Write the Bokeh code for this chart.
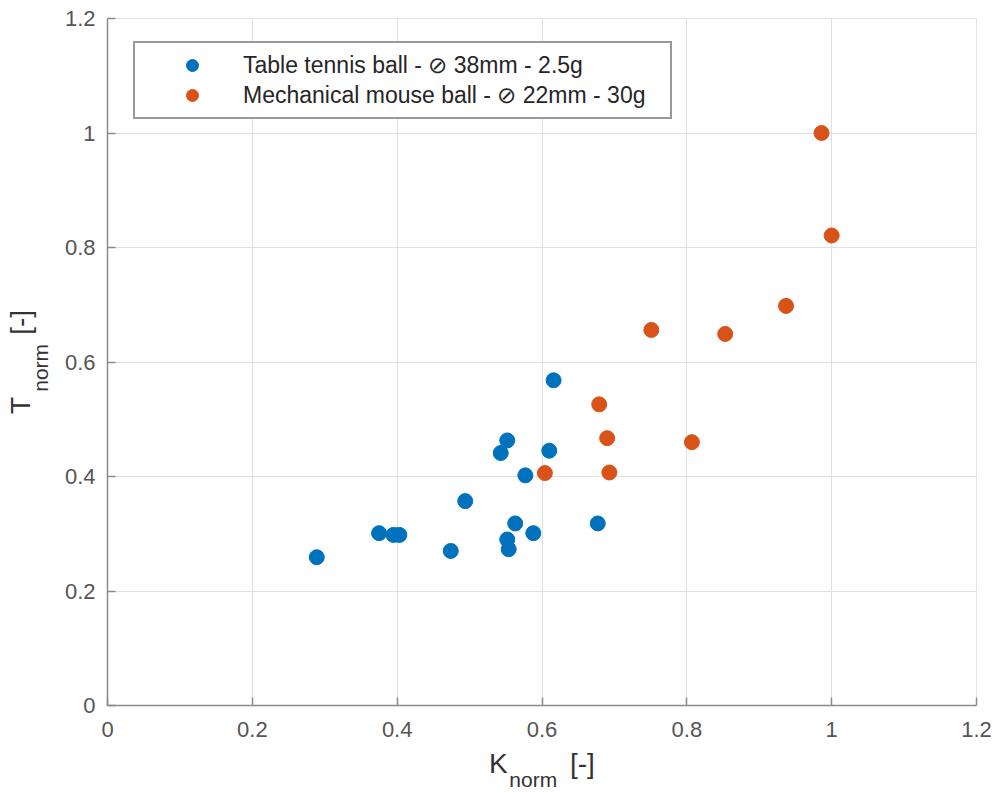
from bokeh.plotting import figure
from bokeh.models import Range1d, FixedTicker, LinearAxis
from bokeh.embed import file_html
from bokeh.resources import INLINE

# ---- data ----
tt_k = [0.289, 0.375, 0.395, 0.403, 0.474, 0.494, 0.543, 0.552, 0.552, 0.554,
        0.563, 0.577, 0.588, 0.610, 0.616, 0.677]
tt_t = [0.259, 0.301, 0.298, 0.298, 0.270, 0.357, 0.441, 0.463, 0.290, 0.273,
        0.318, 0.402, 0.301, 0.445, 0.568, 0.318]

mm_k = [0.604, 0.679, 0.690, 0.693, 0.751, 0.807, 0.853, 0.937, 0.986, 1.000]
mm_t = [0.406, 0.526, 0.467, 0.407, 0.656, 0.460, 0.649, 0.698, 1.000, 0.821]

series_names = ["Table tennis ball - \u2298 38mm - 2.5g",
                "Mechanical mouse ball - \u2298 22mm - 30g"]
ticks = [0, 0.2, 0.4, 0.6, 0.8, 1, 1.2]
tick_labels = ["0", "0.2", "0.4", "0.6", "0.8", "1", "1.2"]

NB = "\u00a0"
x_main, x_sub = "K" + NB * 8 + "[-]", "norm" + NB * 3
y_main, y_sub = "T" + NB * 8 + "[-]", "norm" + NB * 2

FONT = "Liberation Sans"
BLUE = "#0072BD"
ORANGE = "#D95319"
LAB = "#333333"

p = figure(width=1000, height=793, output_backend="svg", toolbar_location=None,
           x_range=Range1d(0, 1.2), y_range=Range1d(0, 1.2),
           min_border_left=107, min_border_right=24, min_border_top=18,
           min_border_bottom=88)
p.background_fill_color = "white"
p.border_fill_color = "white"
p.outline_line_color = "#e3e3e3"
p.outline_line_width = 1

for ax in (p.xaxis[0], p.yaxis[0]):
    ax.ticker = FixedTicker(ticks=ticks)
    ax.major_label_overrides = dict(zip(ticks, tick_labels))
    ax.axis_line_color = "#8a8a8a"
    ax.axis_line_width = 1.5
    ax.major_tick_line_color = "#8a8a8a"
    ax.major_tick_line_width = 1.5
    ax.major_tick_in = 8
    ax.major_tick_out = 0
    ax.minor_tick_line_color = None
    ax.minor_tick_out = 0
    ax.major_label_text_font = FONT
    ax.major_label_text_font_size = "22px"
    ax.major_label_text_color = "#555555"
    ax.axis_label_text_font = FONT
    ax.axis_label_text_font_style = "normal"
    ax.axis_label_text_color = LAB
p.xaxis[0].major_label_standoff = 16
p.yaxis[0].major_label_standoff = 12

# x label: main part on the main axis, subscript on an extra bare axis below
p.xaxis[0].axis_label = x_main
p.xaxis[0].axis_label_text_font_size = "28px"
p.xaxis[0].axis_label_standoff = 8


def bare_axis(label, size, standoff):
    a = LinearAxis(ticker=FixedTicker(ticks=[]), axis_label=label,
                   axis_line_color=None, major_tick_line_color=None,
                   minor_tick_line_color=None, major_tick_in=0, major_tick_out=0,
                   minor_tick_in=0, minor_tick_out=0,
                   axis_label_text_font=FONT, axis_label_text_font_size=size,
                   axis_label_text_font_style="normal", axis_label_text_color=LAB,
                   axis_label_standoff=standoff)
    return a

p.add_layout(bare_axis(x_sub, "21px", -14), "below")
# y label: subscript axis first (nearer the frame), then main part outside it
p.add_layout(bare_axis(y_sub, "21px", 10), "left")
p.add_layout(bare_axis(y_main, "28px", -10), "left")

p.xgrid.ticker = FixedTicker(ticks=ticks)
p.ygrid.ticker = FixedTicker(ticks=ticks)
p.grid.grid_line_color = "#e0e0e0"
p.grid.grid_line_width = 1

p.scatter(tt_k, tt_t, size=15, marker="circle", fill_color=BLUE, line_color=BLUE,
          legend_label=series_names[0])
p.scatter(mm_k, mm_t, size=15, marker="circle", fill_color=ORANGE, line_color=ORANGE,
          legend_label=series_names[1])

lg = p.legend[0]
lg.location = (26, 586)
lg.label_text_font = FONT
lg.label_text_font_size = "23px"
lg.label_text_color = "#262626"
lg.border_line_color = "#333333"
lg.border_line_width = 2
lg.background_fill_color = "white"
lg.padding = 7
lg.spacing = 0
lg.glyph_width = 100
lg.glyph_height = 30
lg.label_standoff = 1
lg.label_height = 30
lg.label_width = 420

open("out.html", "w").write(file_html(p, INLINE))
